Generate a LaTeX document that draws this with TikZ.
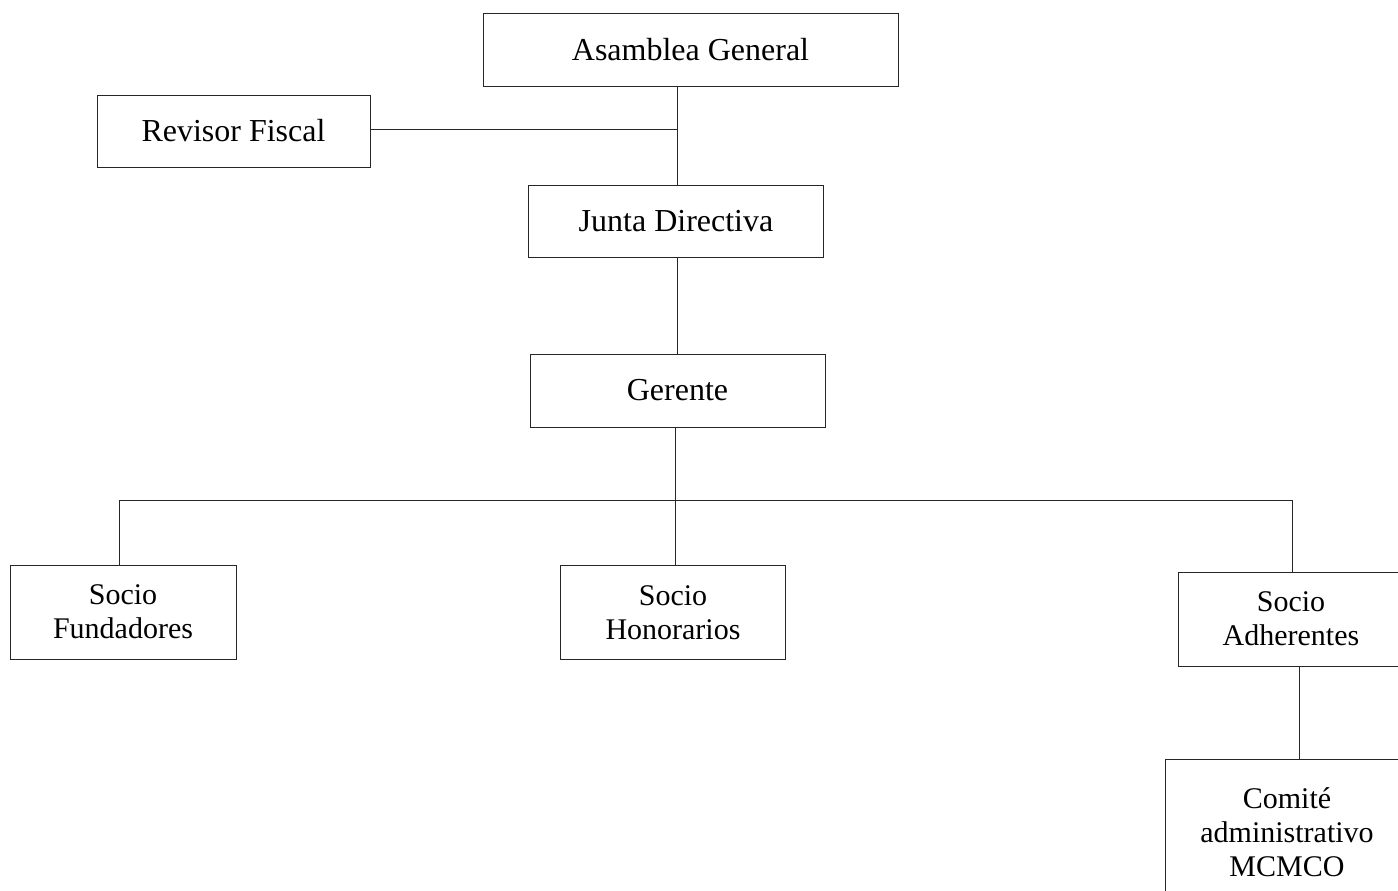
\documentclass[tikz,border=0pt]{standalone}
\usepackage{fontspec}
\setmainfont{Liberation Serif}
\usetikzlibrary{positioning,calc}

\tikzset{
  box/.style={draw=black!85, line width=0.5pt, inner sep=0pt, font=\fontsize{16}{19}\selectfont},
  twoline/.style={box, align=center, font=\fontsize{15}{17}\selectfont},
  link/.style={draw=black!85, line width=0.5pt},
}

\begin{document}
\begin{tikzpicture}[x=0.5pt,y=-0.5pt]
    \useasboundingbox (0,0) rectangle (1398,890);
    \clip (0,0) rectangle (1398,890);

    % upper levels
    \node[box, minimum width=207.5pt, minimum height=36.5pt] (asamblea) at (690.5,49.5) {Asamblea General};
    \node[box, minimum width=136.5pt, minimum height=36pt] (revisor) at (233.5,131) {Revisor Fiscal};
    \node[box, minimum width=147.5pt, minimum height=36pt] (junta) at (676,221.5) {Junta Directiva};
    \node[box, minimum width=147.5pt, minimum height=36.5pt] (gerente) at (677.5,390.5) {Gerente};

    % socios
    \node[twoline, minimum width=113pt, minimum height=47pt] (fundadores) at (123,612) {Socio\\Fundadores};
    \node[twoline, minimum width=112.5pt, minimum height=47pt] (honorarios) at (673,612.5) {Socio\\Honorarios};
    \node[twoline, minimum width=113pt, minimum height=47pt] (adherentes) at (1291,619) {Socio\\Adherentes};
    \node[twoline, minimum width=122pt, minimum height=73pt] (comite) at (1287,832) {Comité\\administrativo\\MCMCO};

    % junctions
    \coordinate (t1) at (677,129);
    \coordinate (t2) at (675,500);
    \coordinate (bl) at (119,500);
    \coordinate (br) at (1292,500);
    \coordinate (t3) at (1299,712);

    \draw[link] (asamblea.south -| t1) -- (junta.north -| t1);
    \draw[link] (revisor.east |- t1) -- (t1);
    \draw[link] (junta.south -| t1) -- (gerente.north -| t1);
    \draw[link] (gerente.south -| t2) -- (honorarios.north -| t2);
    \draw[link] (fundadores.north -| bl) -- (bl) -- (br) -- (adherentes.north -| br);
    \draw[link] (adherentes.south -| t3) -- (comite.north -| t3);
\end{tikzpicture}
\end{document}
